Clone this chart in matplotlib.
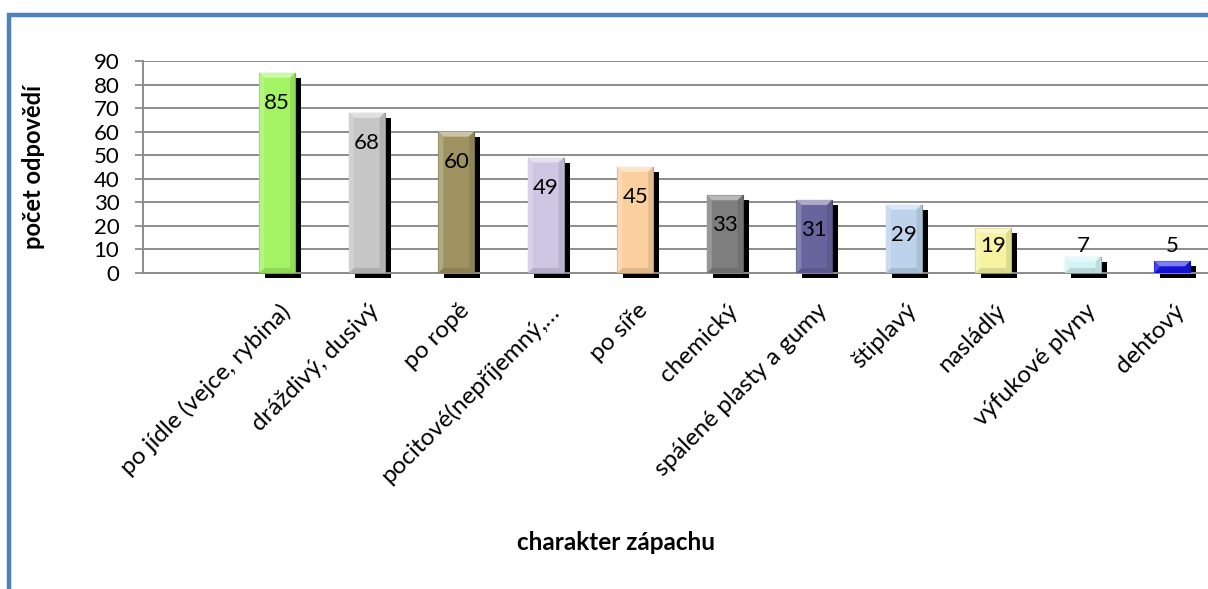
import matplotlib.pyplot as plt
import numpy as np
from matplotlib.colors import to_rgb
from matplotlib.patches import Polygon, Rectangle
from matplotlib.transforms import ScaledTranslation, blended_transform_factory

plt.rcParams['font.family'] = ['Lato', 'DejaVu Sans']

categories = ['po jídle (vejce, rybina)', 'dráždivý, dusivý', 'po ropě',
              'pocitové(nepříjemný,…', 'po síře', 'chemický',
              'spálené plasty a gumy', 'štiplavý', 'nasládlý',
              'výfukové plyny', 'dehtový']
values = [85, 68, 60, 49, 45, 33, 31, 29, 19, 7, 5]
bar_colors = ['#A3F462', '#C6C6C6', '#9E9360', '#CFC6E3', '#FCD09E', '#7E7E7E',
              '#67649E', '#BDD3EC', '#F7F3A0', '#D2F4F6', '#1414E6']
yticks = list(range(0, 91, 10))

W, H, DPI = 1208, 589, 100
fig = plt.figure(figsize=(W / DPI, H / DPI), dpi=DPI)

# plot area in pixels (right edge runs a bit past the canvas)
left_px, right_px, top_px, bottom_px = 143, 1217, 61, 273
ax = fig.add_axes([left_px / W, 1 - bottom_px / H,
                   (right_px - left_px) / W, (bottom_px - top_px) / H])
xmin, xmax = -1.5, 10.5
ax.set_xlim(xmin, xmax)
ax.set_ylim(0, 90)

px_x = (right_px - left_px) / (xmax - xmin)
px_y = (bottom_px - top_px) / 90.0

grid_c = '#8C8C8C'
ax.set_yticks(yticks)
ax.yaxis.grid(True, color=grid_c, lw=1.4, zorder=0)
ax.set_axisbelow(True)
ax.tick_params(axis='y', direction='out', length=6, width=1.3, color=grid_c,
               labelsize=16, pad=11)
ax.set_xticks([])
for s in ['top', 'right']:
    ax.spines[s].set_visible(False)
for s in ['left', 'bottom']:
    ax.spines[s].set_color(grid_c)
    ax.spines[s].set_linewidth(1.4)


def mix(c, target, k):
    c = np.array(to_rgb(c))
    t = np.array(to_rgb(target))
    return tuple(c + (t - c) * k)


def bevel_bar(x, h, w, color, bev=5):
    x0, x1 = x - w / 2, x + w / 2
    bx = bev / px_x
    by = min(bev / px_y, h / 2)
    # drop shadow
    shadow = Rectangle((x0, 0), w, h, facecolor='black', edgecolor='none',
                       zorder=2, clip_on=False)
    shadow.set_transform(ax.transData + ScaledTranslation(6 / DPI, -5 / DPI,
                                                          fig.dpi_scale_trans))
    ax.add_patch(shadow)
    ax.add_patch(Rectangle((x0, 0), w, h, facecolor=color,
                           edgecolor=mix(color, 'black', 0.3), lw=0.8, zorder=3))
    faces = [
        ([(x0, h), (x1, h), (x1 - bx, h - by), (x0 + bx, h - by)], mix(color, 'white', 0.45)),
        ([(x0, 0), (x1, 0), (x1 - bx, by), (x0 + bx, by)], mix(color, 'black', 0.12)),
        ([(x0, 0), (x0, h), (x0 + bx, h - by), (x0 + bx, by)], mix(color, 'white', 0.2)),
        ([(x1, 0), (x1, h), (x1 - bx, h - by), (x1 - bx, by)], mix(color, 'black', 0.1)),
    ]
    for pts, fc in faces:
        ax.add_patch(Polygon(pts, closed=True, facecolor=fc, edgecolor='none', zorder=4))


bar_w = 0.40
xs = np.arange(len(categories))
for x, v, c in zip(xs, values, bar_colors):
    bevel_bar(x, v, bar_w, c)
    # label sits inside the bar end, or just above the base for short bars
    ly = max(v - 30 / px_y, 27 / px_y)
    ax.text(x, ly, str(v), ha='center', va='center', fontsize=16, zorder=5)

# rotated category names under the bars
tr = blended_transform_factory(ax.transData, ax.transAxes)
for x, name in zip(xs, categories):
    ax.text(x + 2 / px_x, -27 / (bottom_px - top_px), name, transform=tr,
            rotation=45, rotation_mode='anchor', ha='right', va='top',
            fontsize=17.5)

fig.text(34 / W, 1 - 167 / H, 'počet odpovědí', rotation=90, ha='center',
         va='center', fontsize=17, fontweight='bold')
fig.text(616 / W, 1 - 542 / H, 'charakter zápachu', ha='center', va='center',
         fontsize=17.5, fontweight='bold')

# blue chart frame
frame = Rectangle((9 / W, -0.2), 1.2, 1 - 15 / H + 0.2, transform=fig.transFigure,
                  facecolor='none', edgecolor='#4F81BD', lw=3.2, zorder=10)
fig.patches.append(frame)

fig.savefig('out.png', dpi=DPI)
